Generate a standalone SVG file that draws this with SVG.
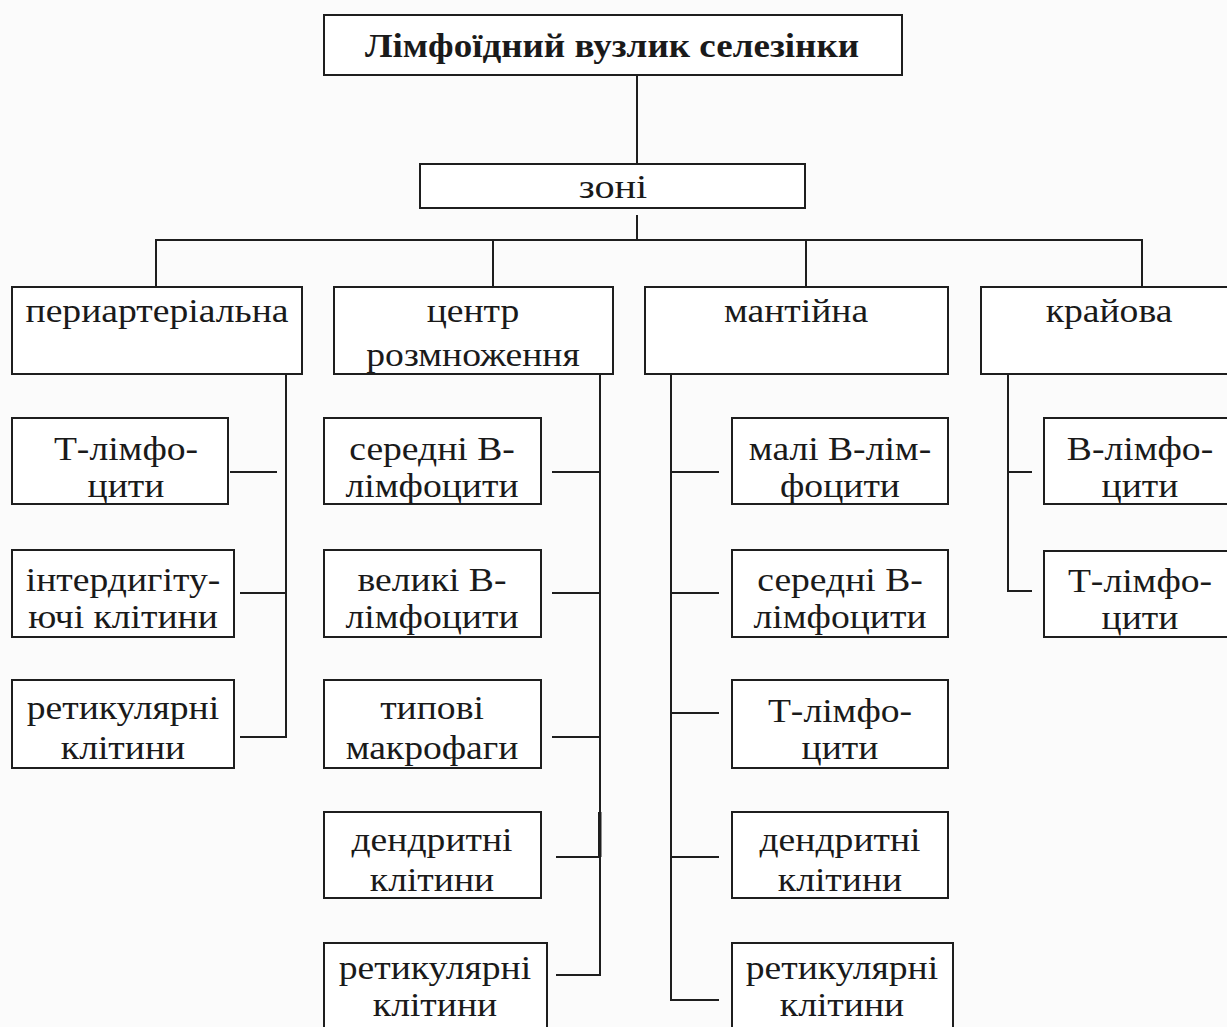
<svg xmlns="http://www.w3.org/2000/svg" width="1227" height="1027" viewBox="0 0 1227 1027">
  <style>
    .box { fill: #ffffff; stroke: #1e1e1e; stroke-width: 2; }
    .ln { fill: none; stroke: #1e1e1e; stroke-width: 2; }
    text { font-family: "Liberation Serif", "Times New Roman", serif; font-size: 33px; fill: #1a1a1a; text-anchor: middle; }
    .title { font-weight: bold; font-size: 34px; }
  </style>
  <rect x="0" y="0" width="1227" height="1027" fill="#fbfbfb"/>

  <!-- connectors -->
  <g id="connectors">
    <path class="ln" d="M637 75 V164"/>
    <path class="ln" d="M637 215 V240"/>
    <path class="ln" d="M156 287 V240 H1142 V287"/>
    <path class="ln" d="M493 240 V287"/>
    <path class="ln" d="M806 240 V287"/>
    <!-- periarterial branch bus -->
    <path class="ln" d="M286 374 V737 H240"/>
    <path class="ln" d="M230 472 H277"/>
    <path class="ln" d="M240 593 H286"/>
    <!-- centre bus -->
    <path class="ln" d="M600 374 V975 H556"/>
    <path class="ln" d="M552 472 H600"/>
    <path class="ln" d="M552 593 H600"/>
    <path class="ln" d="M552 737 H600"/>
    <path class="ln" d="M556 857 H600"/>
    <path d="M598 812 H601.5 V857 H598 Z" fill="#1e1e1e"/>
    <!-- mantle bus -->
    <path class="ln" d="M671 374 V1000 H719"/>
    <path class="ln" d="M671 472 H719"/>
    <path class="ln" d="M671 593 H719"/>
    <path class="ln" d="M671 713 H719"/>
    <path class="ln" d="M671 857 H719"/>
    <!-- marginal bus -->
    <path class="ln" d="M1008 374 V591 H1032"/>
    <path class="ln" d="M1008 472 H1032"/>
  </g>

  <!-- root -->
  <g id="root">
    <rect class="box" x="324" y="15" width="578" height="60"/>
    <text class="title" transform="translate(612 57) scale(1.09 1)">Лімфоїдний вузлик селезінки</text>
  </g>
  <g id="zones">
    <rect class="box" x="420" y="164" width="385" height="44"/>
    <text transform="translate(613 198) scale(1.22 1)">зоні</text>
  </g>

  <!-- zone level -->
  <g id="periarterial">
    <rect class="box" x="12" y="287" width="290" height="87"/>
    <text transform="translate(157 322) scale(1.14 1)">периартеріальна</text>
  </g>
  <g id="germinal-centre">
    <rect class="box" x="334" y="287" width="279" height="87"/>
    <text transform="translate(473 322) scale(1.14 1)">центр</text>
    <text transform="translate(473 366) scale(1.14 1)">розмноження</text>
  </g>
  <g id="mantle">
    <rect class="box" x="645" y="287" width="303" height="87"/>
    <text transform="translate(796 322) scale(1.14 1)">мантійна</text>
  </g>
  <g id="marginal">
    <rect class="box" x="981" y="287" width="258" height="87"/>
    <text transform="translate(1109 322) scale(1.14 1)">крайова</text>
  </g>

  <!-- periarterial cells -->
  <g id="pa-t">
    <rect class="box" x="12" y="418" width="216" height="86"/>
    <text transform="translate(126 460) scale(1.14 1)">Т-лімфо-</text>
    <text transform="translate(126 497) scale(1.14 1)">цити</text>
  </g>
  <g id="pa-interdig">
    <rect class="box" x="12" y="550" width="222" height="87"/>
    <text transform="translate(123 591) scale(1.14 1)">інтердигіту-</text>
    <text transform="translate(123 628) scale(1.14 1)">ючі клітини</text>
  </g>
  <g id="pa-retic">
    <rect class="box" x="12" y="680" width="222" height="88"/>
    <text transform="translate(123 719) scale(1.14 1)">ретикулярні</text>
    <text transform="translate(123 759) scale(1.14 1)">клітини</text>
  </g>

  <!-- germinal centre cells -->
  <g id="gc-medium-b">
    <rect class="box" x="324" y="418" width="217" height="86"/>
    <text transform="translate(432 460) scale(1.14 1)">середні В-</text>
    <text transform="translate(432 497) scale(1.14 1)">лімфоцити</text>
  </g>
  <g id="gc-large-b">
    <rect class="box" x="324" y="550" width="217" height="87"/>
    <text transform="translate(432 591) scale(1.14 1)">великі В-</text>
    <text transform="translate(432 628) scale(1.14 1)">лімфоцити</text>
  </g>
  <g id="gc-macro">
    <rect class="box" x="324" y="680" width="217" height="88"/>
    <text transform="translate(432 719) scale(1.14 1)">типові</text>
    <text transform="translate(432 759) scale(1.14 1)">макрофаги</text>
  </g>
  <g id="gc-dendritic">
    <rect class="box" x="324" y="812" width="217" height="86"/>
    <text transform="translate(432 851) scale(1.14 1)">дендритні</text>
    <text transform="translate(432 891) scale(1.14 1)">клітини</text>
  </g>
  <g id="gc-retic">
    <rect class="box" x="324" y="943" width="223" height="100"/>
    <text transform="translate(435 979) scale(1.14 1)">ретикулярні</text>
    <text transform="translate(435 1016) scale(1.14 1)">клітини</text>
  </g>

  <!-- mantle cells -->
  <g id="m-small-b">
    <rect class="box" x="732" y="418" width="216" height="86"/>
    <text transform="translate(840 460) scale(1.14 1)">малі В-лім-</text>
    <text transform="translate(840 497) scale(1.14 1)">фоцити</text>
  </g>
  <g id="m-medium-b">
    <rect class="box" x="732" y="550" width="216" height="87"/>
    <text transform="translate(840 591) scale(1.14 1)">середні В-</text>
    <text transform="translate(840 628) scale(1.14 1)">лімфоцити</text>
  </g>
  <g id="m-t">
    <rect class="box" x="732" y="680" width="216" height="88"/>
    <text transform="translate(840 722) scale(1.14 1)">Т-лімфо-</text>
    <text transform="translate(840 759) scale(1.14 1)">цити</text>
  </g>
  <g id="m-dendritic">
    <rect class="box" x="732" y="812" width="216" height="86"/>
    <text transform="translate(840 851) scale(1.14 1)">дендритні</text>
    <text transform="translate(840 891) scale(1.14 1)">клітини</text>
  </g>
  <g id="m-retic">
    <rect class="box" x="732" y="943" width="221" height="100"/>
    <text transform="translate(842 979) scale(1.14 1)">ретикулярні</text>
    <text transform="translate(842 1016) scale(1.14 1)">клітини</text>
  </g>

  <!-- marginal cells -->
  <g id="mg-b">
    <rect class="box" x="1044" y="418" width="200" height="86"/>
    <text transform="translate(1140 460) scale(1.14 1)">В-лімфо-</text>
    <text transform="translate(1140 497) scale(1.14 1)">цити</text>
  </g>
  <g id="mg-t">
    <rect class="box" x="1044" y="551" width="200" height="86"/>
    <text transform="translate(1140 592) scale(1.14 1)">Т-лімфо-</text>
    <text transform="translate(1140 629) scale(1.14 1)">цити</text>
  </g>
</svg>
